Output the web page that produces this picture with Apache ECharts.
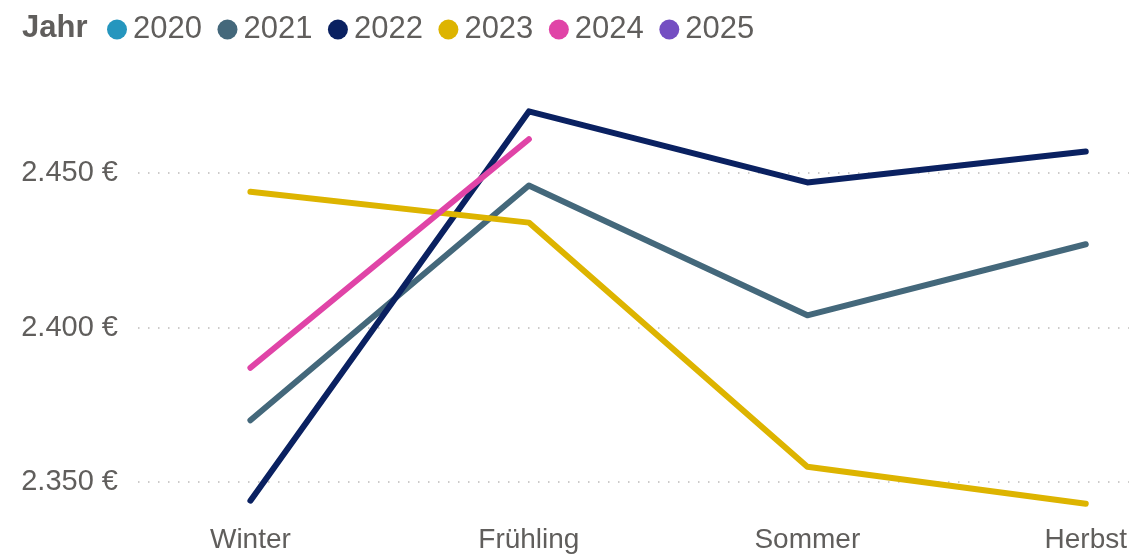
<!DOCTYPE html>
<html>
<head>
<meta charset="utf-8">
<script src="https://cdn.jsdelivr.net/npm/echarts@6/dist/echarts.min.js"></script>
<style>
  html, body { margin: 0; padding: 0; background: #fff; }
  #chart { width: 1130px; height: 554px; }
</style>
</head>
<body>
<div id="chart"></div>
<script>
// Jahreszeiten (x-Achse)
const seasons = ['Winter', 'Frühling', 'Sommer', 'Herbst'];
// y-Achse Beschriftungen
const yTicks = [2350, 2400, 2450];

// Werte je Jahr (null = kein Wert)
const years = ['2020', '2021', '2022', '2023', '2024', '2025'];
const v2020 = [];
const v2021 = [2370, 2446, 2404, 2427];
const v2022 = [2344, 2470, 2447, 2457];
const v2023 = [2444, 2434, 2355, 2343];
const v2024 = [2387, 2461, null, null];
const v2025 = [];

const colors = ['#2596BE', '#44687B', '#0A2161', '#DDB400', '#E044A7', '#744EC2'];
const values = [v2020, v2021, v2022, v2023, v2024, v2025];

const textColor = '#605E5C';
const font = 'Arial, "Liberation Sans", sans-serif';

// Tausenderpunkt + Euro
function euro(v) {
  return String(v).replace(/\B(?=(\d{3})+(?!\d))/g, '.') + ' €';
}

const chart = echarts.init(document.getElementById('chart'));

let option = {
  color: colors,
  animation: false,
  title: {
    text: 'Jahr',
    left: 17,
    top: 8,
    textStyle: { fontFamily: font, fontSize: 31, fontWeight: 'bold', color: textColor }
  },
  legend: {
    left: 102,
    top: 9,
    icon: 'circle',
    itemWidth: 20,
    itemHeight: 20,
    itemGap: 15.5,
    data: years,
    textStyle: { fontFamily: font, fontSize: 31, color: textColor, padding: [0, 0, 0, 1] }
  },
  grid: {
    left: 138,
    right: 0,
    top: 80.5,
    bottom: 39.5,
    containLabel: false
  },
  xAxis: {
    type: 'value',
    min: -0.4037,
    max: 3.155,
    axisLine: { show: false },
    axisTick: { show: false, customValues: [0, 1, 2, 3] },
    splitLine: { show: false },
    axisLabel: {
      customValues: [0, 1, 2, 3],
      formatter: function (v) { return seasons[Math.round(v)]; },
      margin: 13,
      fontFamily: font,
      fontSize: 28,
      color: textColor
    }
  },
  yAxis: {
    type: 'value',
    min: 2340,
    max: 2480,
    axisLine: { show: false },
    axisTick: { show: false, customValues: yTicks },
    splitLine: {
      show: true,
      lineStyle: { color: '#BDBBB9', width: 1.5, type: [1.5, 8.5] }
    },
    axisLabel: {
      customValues: yTicks,
      formatter: euro,
      margin: 20,
      fontFamily: font,
      fontSize: 29,
      color: textColor
    }
  },
  series: years.map(function (y, k) {
    return {
      name: y,
      type: 'line',
      data: values[k].map(function (v, i) { return [i, v]; }),
      symbol: 'none',
      connectNulls: false,
      lineStyle: { width: 6, cap: 'round', join: 'round' }
    };
  })
};

chart.setOption(option);
</script>
</body>
</html>
